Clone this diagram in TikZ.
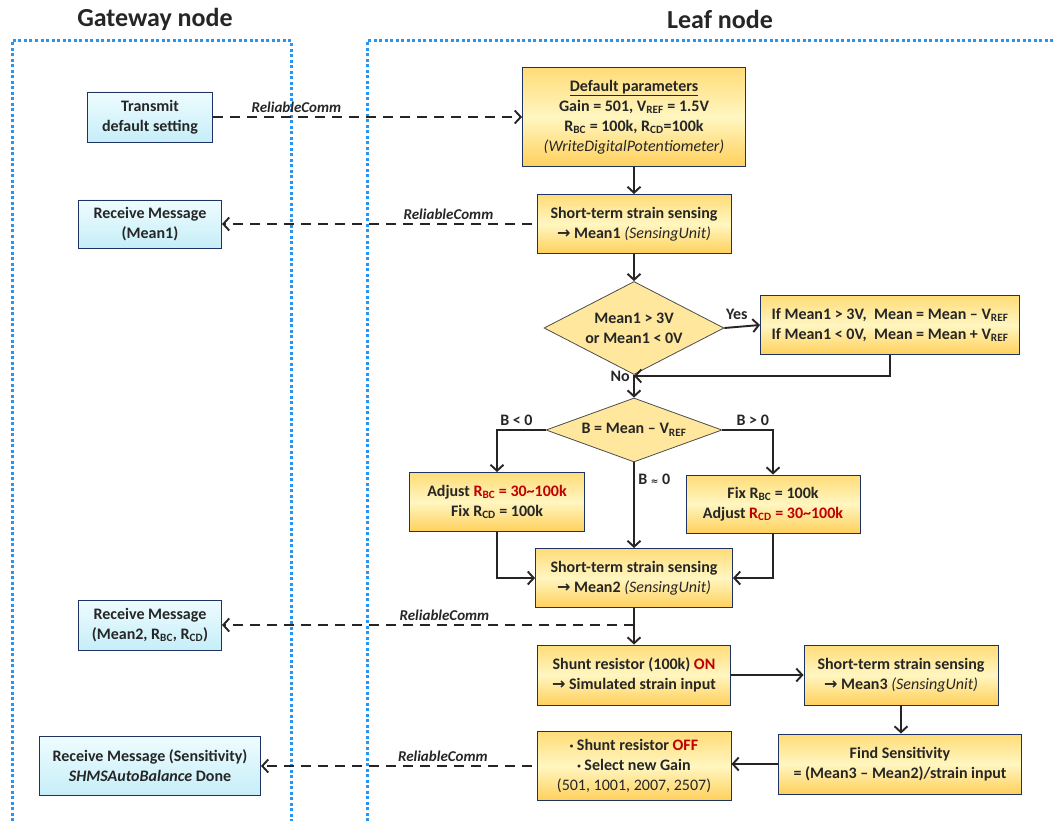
\documentclass[tikz,border=0pt]{standalone}
\usepackage{fontspec}
\setmainfont{Carlito}
\newfontfamily\arrowfont{DejaVu Sans}
\usetikzlibrary{arrows.meta}
\usetikzlibrary{shapes.geometric}
\usetikzlibrary{positioning}
\definecolor{frameblue}{RGB}{40,150,240}
\definecolor{boxedge}{RGB}{30,50,100}
\definecolor{linegray}{RGB}{40,36,36}
\definecolor{warnred}{RGB}{192,0,0}
\definecolor{leaftop}{RGB}{255,220,120}
\definecolor{leafmid}{RGB}{255,246,192}
\definecolor{leafbot}{RGB}{255,208,92}
\definecolor{gatetop}{RGB}{238,252,255}
\definecolor{gatebot}{RGB}{198,238,248}
\definecolor{diafill}{RGB}{255,232,158}
\newcommand{\rsub}[1]{\textsubscript{#1}}
\newcommand{\rto}{{\arrowfont\bfseries →}}
\newcommand{\warn}[1]{{\color{warnred}#1}}
\newcommand{\dotitem}{\raisebox{0.2ex}{\scriptsize\textbullet}}
\tikzset{
  boxfont/.style={font=\bfseries\fontsize{16}{20}\selectfont, text=black!85},
  leaf/.style={draw=boxedge, line width=0.9pt, top color=leaftop,
    bottom color=leafbot, middle color=leafmid, align=center,
    inner sep=0pt, boxfont},
  gate/.style={draw=boxedge, line width=0.9pt, top color=gatetop,
    bottom color=gatebot, align=center, inner sep=0pt, boxfont},
  decision/.style={diamond, draw=black!70, line width=0.8pt, fill=diafill,
    inner sep=0pt, align=center, boxfont},
  arrow/.style={->, >={Straight Barb[length=6pt,width=13pt]},
    line width=1.9pt, draw=linegray},
  comm/.style={arrow, dash pattern=on 10pt off 7pt},
  commlabel/.style={font=\bfseries\itshape\fontsize{15}{17}\selectfont,
    text=black!85},
  lbl/.style={boxfont},
  lane/.style={frameblue, line width=3pt, dash pattern=on 3pt off 2.5pt},
  title/.style={font=\bfseries\fontsize{26}{30}\selectfont, text=black!85}
}
\begin{document}
\begin{tikzpicture}[x=1pt,y=-1pt]
    \useasboundingbox (0,0) rectangle (1055,821);

    % lanes
    \draw[lane] (12,821) -- (12,41) -- (291,41) -- (291,821);
    \draw[lane] (367,821) -- (367,41) -- (1055,41);
    \node[title] (gwtitle) at (155,19) {Gateway node};
    \node[title] (lftitle) at (720,19) {Leaf node};

    % leaf node steps
    \node[leaf, minimum width=223pt, minimum height=99pt] (defaults) at (634,117)
          {\underline{Default parameters}\\ Gain = 501, V\rsub{REF} = 1.5V\\
           R\rsub{BC} = 100k, R\rsub{CD}=100k\\
           {\mdseries\itshape (WriteDigitalPotentiometer)}};
    \node[leaf, minimum width=194pt, minimum height=59pt] (mean1) at (634,224)
          {Short-term strain sensing\\ \rto{} Mean1 {\mdseries\itshape (SensingUnit)}};
    \node[decision, aspect=2, minimum width=180pt, minimum height=93pt] (range)
          at (634,328) {Mean1 > 3V\\ or Mean1 < 0V};
    \node[leaf, minimum width=259pt, minimum height=59pt, align=left] (offset)
          at (890,325) {If Mean1 > 3V,~ Mean = Mean -- V\rsub{REF}\\
                        If Mean1 < 0V,~ Mean = Mean + V\rsub{REF}};
    \coordinate (join) at (634,376);
    \node[decision, aspect=2.75, minimum width=176pt, minimum height=64pt] (balance)
          at (634,430) {B = Mean -- V\rsub{REF}};
    \node[leaf, minimum width=175pt, minimum height=59pt] (adjbc) at (497,502)
          {Adjust \warn{R\rsub{BC} = 30\textasciitilde100k}\\ Fix R\rsub{CD} = 100k};
    \node[leaf, minimum width=174pt, minimum height=58pt] (adjcd) at (773,504)
          {Fix R\rsub{BC} = 100k\\ Adjust \warn{R\rsub{CD} = 30\textasciitilde100k}};
    \node[leaf, minimum width=197pt, minimum height=59pt] (mean2) at (634,578)
          {Short-term strain sensing\\ \rto{} Mean2 {\mdseries\itshape (SensingUnit)}};
    \node[leaf, minimum width=193pt, minimum height=60pt] (shunton) at (634,675)
          {Shunt resistor (100k) \warn{ON}\\ \rto{} Simulated strain input};
    \node[leaf, minimum width=194pt, minimum height=60pt] (mean3) at (901,675)
          {Short-term strain sensing\\ \rto{} Mean3 {\mdseries\itshape (SensingUnit)}};
    \node[leaf, minimum width=243pt, minimum height=60pt] (sens) at (900,764)
          {Find Sensitivity\\ = (Mean3 -- Mean2)/strain input};
    \node[leaf, minimum width=194pt, minimum height=69pt] (shuntoff) at (634,766)
          {\dotitem{} Shunt resistor \warn{OFF}\\ \dotitem{} Select new Gain\\
           {\mdseries (501, 1001, 2007, 2507)}};

    % gateway node steps
    \node[gate, minimum width=125pt, minimum height=50pt] (transmit) at (150,117)
          {Transmit\\ default setting};
    \node[gate, minimum width=143pt, minimum height=48pt] (recv1) at (150,224)
          {Receive Message\\ (Mean1)};
    \node[gate, minimum width=143pt, minimum height=50pt] (recv2) at (150,625)
          {Receive Message\\ (Mean2, R\rsub{BC}, R\rsub{CD})};
    \node[gate, minimum width=221pt, minimum height=59pt] (recv3) at (150,766)
          {Receive Message (Sensitivity)\\ {\itshape SHMSAutoBalance} Done};

    % flow
    \draw[arrow] (defaults) -- (mean1);
    \draw[arrow] (mean1) -- (range);
    \draw[arrow] (range.east) -- node[lbl, pos=0.35, above, yshift=3pt] {Yes}
          (offset.west);
    \draw[arrow] (offset.south) |- (join);
    \draw[arrow] (range.south) -- node[lbl, pos=0.05, left] {No} (balance.north);
    \draw[arrow] (balance.west) -| node[lbl, pos=0.3, above] {B < 0} (adjbc.north);
    \draw[arrow] (balance.east) -| node[lbl, pos=0.3, above] {B > 0} (adjcd.north);
    \draw[arrow] (balance.south) -- node[lbl, pos=0.2, right]
          {B {\arrowfont\bfseries\small ≈} 0} (mean2.north);
    \draw[arrow] (adjbc.south) |- (mean2.west);
    \draw[arrow] (adjcd.south) |- (mean2.east);
    \draw[arrow] (mean2) -- (shunton);
    \draw[arrow] (shunton) -- (mean3);
    \draw[arrow] (mean3.south) -- (mean3.south |- sens.north);
    \draw[arrow] (sens.west) -- (sens.west -| shuntoff.east);

    % messages
    \draw[comm] (transmit) -- node[commlabel, pos=0.27, above] {ReliableComm}
          (transmit -| defaults.west);
    \draw[comm, shorten <=5pt] (mean1) -- node[commlabel, pos=0.28, above]
          {ReliableComm} (recv1);
    \draw[comm] (mean2.south |- recv2.east) -- node[commlabel, pos=0.46, above]
          {ReliableComm} (recv2);
    \draw[comm, shorten <=5pt] (shuntoff) -- node[commlabel, pos=0.34, above]
          {ReliableComm} (recv3);
\end{tikzpicture}
\end{document}
